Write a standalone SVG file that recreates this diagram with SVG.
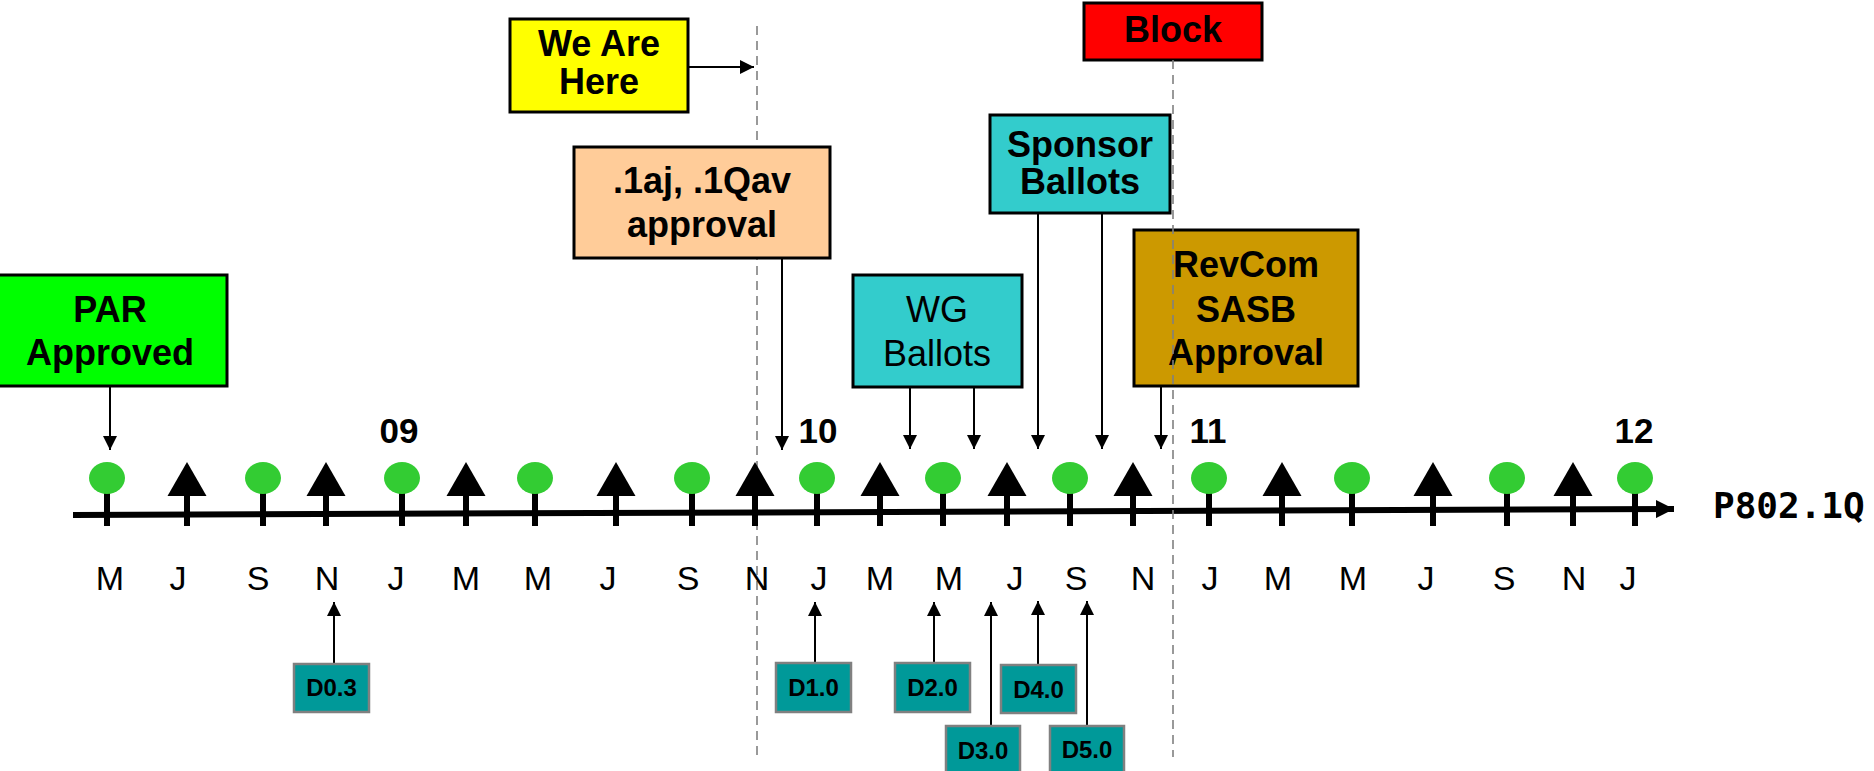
<svg xmlns="http://www.w3.org/2000/svg" width="1874" height="771" viewBox="0 0 1874 771">
<style>
  .box { stroke: #000; stroke-width: 3; }
  .lbl { font-family: "Liberation Sans", Arial, sans-serif; font-weight: bold; font-size: 36px; text-anchor: middle; fill: #000; }
  .reg { font-weight: normal; }
  .mon { font-family: "Liberation Sans", Arial, sans-serif; font-size: 34px; text-anchor: middle; fill: #000; }
  .yr { font-family: "Liberation Sans", Arial, sans-serif; font-weight: bold; font-size: 35px; text-anchor: middle; fill: #000; }
  .dbox { fill: #009999; stroke: #808080; stroke-width: 2.5; }
  .dtxt { font-family: "Liberation Sans", Arial, sans-serif; font-weight: bold; font-size: 24px; text-anchor: middle; fill: #000; }
  .conn { stroke: #000; stroke-width: 2; fill: none; }
  .dash { stroke: #808080; stroke-width: 1.6; stroke-dasharray: 9 6; fill: none; }
  .ell { fill: #33CC33; }
  .stem { stroke: #000; stroke-width: 6; }
</style>
<defs>
  <marker id="ah" viewBox="0 0 14 14" refX="14" refY="7" markerWidth="14" markerHeight="14" markerUnits="userSpaceOnUse" orient="auto">
    <path d="M0,0 L14,7 L0,14 Z" fill="#000"/>
  </marker>
  <marker id="ahBig" viewBox="0 0 18 18" refX="18" refY="9" markerWidth="18" markerHeight="18" markerUnits="userSpaceOnUse" orient="auto">
    <path d="M0,0 L18,9 L0,18 Z" fill="#000"/>
  </marker>
</defs>
<rect width="1874" height="771" fill="#fff"/>

<!-- dashed "now" line under boxes -->
<line class="dash" x1="757" y1="26" x2="757" y2="757"/>

<!-- timeline -->
<g id="timeline">
  <line x1="73" y1="515" x2="1674" y2="509" stroke="#000" stroke-width="6" marker-end="url(#ahBig)"/>
  <g class="stem">
    <line x1="107" y1="478" x2="107" y2="526"/>
    <line x1="263" y1="478" x2="263" y2="526"/>
    <line x1="402" y1="478" x2="402" y2="526"/>
    <line x1="535" y1="478" x2="535" y2="526"/>
    <line x1="692" y1="478" x2="692" y2="526"/>
    <line x1="817" y1="478" x2="817" y2="526"/>
    <line x1="943" y1="478" x2="943" y2="526"/>
    <line x1="1070" y1="478" x2="1070" y2="526"/>
    <line x1="1209" y1="478" x2="1209" y2="526"/>
    <line x1="1352" y1="478" x2="1352" y2="526"/>
    <line x1="1507" y1="478" x2="1507" y2="526"/>
    <line x1="1635" y1="478" x2="1635" y2="526"/>
    <line x1="187" y1="490" x2="187" y2="526"/>
    <line x1="326" y1="490" x2="326" y2="526"/>
    <line x1="466" y1="490" x2="466" y2="526"/>
    <line x1="616" y1="490" x2="616" y2="526"/>
    <line x1="755" y1="490" x2="755" y2="526"/>
    <line x1="880" y1="490" x2="880" y2="526"/>
    <line x1="1007" y1="490" x2="1007" y2="526"/>
    <line x1="1133" y1="490" x2="1133" y2="526"/>
    <line x1="1282" y1="490" x2="1282" y2="526"/>
    <line x1="1433" y1="490" x2="1433" y2="526"/>
    <line x1="1573" y1="490" x2="1573" y2="526"/>
  </g>
  <g class="ell">
    <ellipse cx="107" cy="478" rx="18" ry="16"/>
    <ellipse cx="263" cy="478" rx="18" ry="16"/>
    <ellipse cx="402" cy="478" rx="18" ry="16"/>
    <ellipse cx="535" cy="478" rx="18" ry="16"/>
    <ellipse cx="692" cy="478" rx="18" ry="16"/>
    <ellipse cx="817" cy="478" rx="18" ry="16"/>
    <ellipse cx="943" cy="478" rx="18" ry="16"/>
    <ellipse cx="1070" cy="478" rx="18" ry="16"/>
    <ellipse cx="1209" cy="478" rx="18" ry="16"/>
    <ellipse cx="1352" cy="478" rx="18" ry="16"/>
    <ellipse cx="1507" cy="478" rx="18" ry="16"/>
    <ellipse cx="1635" cy="478" rx="18" ry="16"/>
  </g>
  <g fill="#000">
    <path d="M187,462 L206.5,496 L167.5,496 Z"/>
    <path d="M326,462 L345.5,496 L306.5,496 Z"/>
    <path d="M466,462 L485.5,496 L446.5,496 Z"/>
    <path d="M616,462 L635.5,496 L596.5,496 Z"/>
    <path d="M755,462 L774.5,496 L735.5,496 Z"/>
    <path d="M880,462 L899.5,496 L860.5,496 Z"/>
    <path d="M1007,462 L1026.5,496 L987.5,496 Z"/>
    <path d="M1133,462 L1152.5,496 L1113.5,496 Z"/>
    <path d="M1282,462 L1301.5,496 L1262.5,496 Z"/>
    <path d="M1433,462 L1452.5,496 L1413.5,496 Z"/>
    <path d="M1573,462 L1592.5,496 L1553.5,496 Z"/>
  </g>
  <text x="1713" y="518" font-family="'DejaVu Sans Mono', monospace" font-weight="bold" font-size="36" fill="#000">P802.1Q</text>
  <g class="yr">
    <text x="399" y="443">09</text>
    <text x="818" y="443">10</text>
    <text x="1208" y="443">11</text>
    <text x="1634" y="443">12</text>
  </g>
  <g class="mon">
    <text x="110" y="590">M</text>
    <text x="178" y="590">J</text>
    <text x="258" y="590">S</text>
    <text x="327" y="590">N</text>
    <text x="396" y="590">J</text>
    <text x="466" y="590">M</text>
    <text x="538" y="590">M</text>
    <text x="608" y="590">J</text>
    <text x="688" y="590">S</text>
    <text x="757" y="590">N</text>
    <text x="819" y="590">J</text>
    <text x="880" y="590">M</text>
    <text x="949" y="590">M</text>
    <text x="1015" y="590">J</text>
    <text x="1076" y="590">S</text>
    <text x="1143" y="590">N</text>
    <text x="1210" y="590">J</text>
    <text x="1278" y="590">M</text>
    <text x="1353" y="590">M</text>
    <text x="1426" y="590">J</text>
    <text x="1504" y="590">S</text>
    <text x="1574" y="590">N</text>
    <text x="1628" y="590">J</text>
  </g>
</g>

<!-- connectors -->
<g id="connectors" class="conn">
  <line x1="689" y1="67" x2="754" y2="67" marker-end="url(#ah)"/>
  <line x1="110" y1="386" x2="110" y2="450" marker-end="url(#ah)"/>
  <line x1="782" y1="258" x2="782" y2="450" marker-end="url(#ah)"/>
  <line x1="910" y1="387" x2="910" y2="449" marker-end="url(#ah)"/>
  <line x1="974" y1="387" x2="974" y2="449" marker-end="url(#ah)"/>
  <line x1="1038" y1="213" x2="1038" y2="449" marker-end="url(#ah)"/>
  <line x1="1102" y1="213" x2="1102" y2="449" marker-end="url(#ah)"/>
  <line x1="1161" y1="386" x2="1161" y2="449" marker-end="url(#ah)"/>
  <line x1="334" y1="664" x2="334" y2="602" marker-end="url(#ah)"/>
  <line x1="815" y1="663" x2="815" y2="602" marker-end="url(#ah)"/>
  <line x1="934" y1="663" x2="934" y2="602" marker-end="url(#ah)"/>
  <line x1="991" y1="726" x2="991" y2="602" marker-end="url(#ah)"/>
  <line x1="1038" y1="665" x2="1038" y2="601" marker-end="url(#ah)"/>
  <line x1="1087" y1="726" x2="1087" y2="601" marker-end="url(#ah)"/>
</g>

<g id="we-are-here">
  <rect class="box" x="510" y="19" width="178" height="93" fill="#FFFF00"/>
  <text class="lbl" x="599" y="56" font-size="34">We Are</text>
  <text class="lbl" x="599" y="94" font-size="34">Here</text>
</g>
<g id="approval-1aj">
  <rect class="box" x="574" y="147" width="256" height="111" fill="#FFCC99"/>
  <text class="lbl" x="702" y="193">.1aj, .1Qav</text>
  <text class="lbl" x="702" y="237">approval</text>
</g>
<g id="par-approved">
  <rect class="box" x="-3" y="275" width="230" height="111" fill="#00FF00"/>
  <text class="lbl" x="110" y="322">PAR</text>
  <text class="lbl" x="110" y="365">Approved</text>
</g>
<g id="wg-ballots">
  <rect class="box" x="853" y="275" width="169" height="112" fill="#33CCCC"/>
  <text class="lbl reg" x="937" y="322">WG</text>
  <text class="lbl reg" x="937" y="366">Ballots</text>
</g>
<g id="sponsor-ballots">
  <rect class="box" x="990" y="115" width="180" height="98" fill="#33CCCC"/>
  <text class="lbl" x="1080" y="157" font-size="31">Sponsor</text>
  <text class="lbl" x="1080" y="194" font-size="31">Ballots</text>
</g>
<g id="revcom">
  <rect class="box" x="1134" y="230" width="224" height="156" fill="#CC9900"/>
  <text class="lbl" x="1246" y="277">RevCom</text>
  <text class="lbl" x="1246" y="322">SASB</text>
  <text class="lbl" x="1246" y="365">Approval</text>
</g>
<g id="block">
  <rect class="box" x="1084" y="3" width="178" height="57" fill="#FF0000"/>
  <text class="lbl" x="1173" y="42">Block</text>
</g>

<!-- dashed line over boxes -->
<line class="dash" x1="1173" y1="60" x2="1173" y2="757"/>

<g id="d03"><rect class="dbox" x="294" y="664" width="75" height="48"/><text class="dtxt" x="331.5" y="696">D0.3</text></g>
<g id="d10"><rect class="dbox" x="776" y="663" width="75" height="49"/><text class="dtxt" x="813.5" y="696">D1.0</text></g>
<g id="d20"><rect class="dbox" x="895" y="663" width="75" height="49"/><text class="dtxt" x="932.5" y="696">D2.0</text></g>
<g id="d30"><rect class="dbox" x="946" y="726" width="74" height="48"/><text class="dtxt" x="983" y="759">D3.0</text></g>
<g id="d40"><rect class="dbox" x="1001" y="665" width="75" height="48"/><text class="dtxt" x="1038.5" y="698">D4.0</text></g>
<g id="d50"><rect class="dbox" x="1050" y="726" width="74" height="48"/><text class="dtxt" x="1087" y="758">D5.0</text></g>
</svg>
